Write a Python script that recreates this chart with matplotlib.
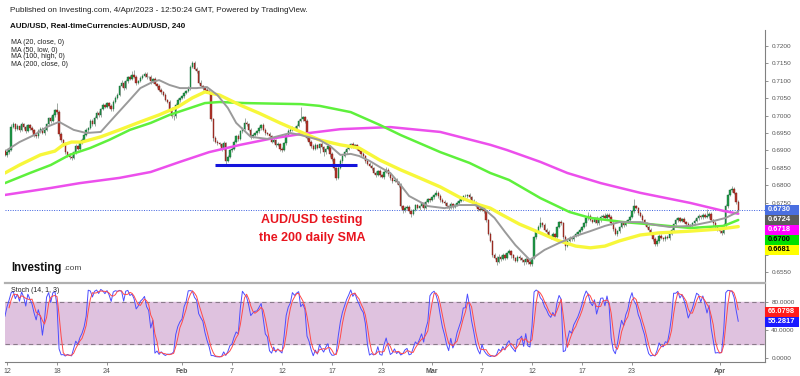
import numpy as np
import pandas as pd
import matplotlib
matplotlib.use("Agg")
import matplotlib.pyplot as plt
from matplotlib.patches import Rectangle

plt.rcParams['font.family'] = ['Liberation Sans', 'DejaVu Sans']

# ---------------- DATA (prices in pips, /1e4) ----------------
# 4h bars; 6 bars per trading day; bar 0 = Jan 12 00:00
pre_close = [6875, 6868, 6880, 6892, 6885, 6870, 6862, 6878, 6890, 6902, 6895, 6905, 6898, 6888]
pre_uw = [4, 5, 3, 6, 4, 3, 5, 4, 6, 3, 5, 4, 3, 5]
pre_lw = [3, 5, 4, 3, 6, 4, 5, 3, 4, 6, 3, 5, 4, 3]
first_open = 6880

close_pips = [
    6895, 6900, 6968, 6975, 6962, 6970,   # Jan 12
    6958, 6975, 6968, 6955, 6972, 6965,   # Jan 13
    6958, 6945, 6940, 6955, 6962, 6950,   # Jan 16
    6960, 6975, 6992, 6985, 7002, 7015,   # Jan 17
    7010, 6948, 6930, 6918, 6895, 6888,   # Jan 18
    6882, 6878, 6895, 6912, 6905, 6920,   # Jan 19
    6930, 6945, 6958, 6965, 6985, 6975,   # Jan 20
    6992, 7008, 7002, 7020, 7030, 7025,   # Jan 23
    7035, 7028, 7018, 7040, 7052, 7060,   # Jan 24
    7085, 7095, 7080, 7100, 7110, 7105,   # Jan 25
    7118, 7112, 7095, 7100, 7108, 7115,   # Jan 26
    7120, 7110, 7112, 7098, 7105, 7090,   # Jan 27
    7085, 7075, 7068, 7060, 7045, 7040,   # Jan 30
    7020, 7000, 6998, 7030, 7045, 7050,   # Jan 31
    7055, 7065, 7070, 7080, 7140, 7150,   # Feb 1
    7135, 7128, 7095, 7085, 7080, 7075,   # Feb 2
    7070, 7065, 6990, 6935, 6925, 6920,   # Feb 3
    6918, 6905, 6920, 6870, 6882, 6900,   # Feb 6
    6905, 6925, 6940, 6932, 6955, 6962,   # Feb 7
    6980, 6975, 6960, 6940, 6945, 6950,   # Feb 8
    6955, 6965, 6972, 6960, 6950, 6948,   # Feb 9
    6940, 6925, 6930, 6915, 6918, 6905,   # Feb 10
    6900, 6920, 6945, 6955, 6960, 6965,   # Feb 13
    6962, 6970, 6985, 6990, 6995, 6985,   # Feb 14
    6935, 6925, 6912, 6905, 6915, 6908,   # Feb 15
    6918, 6910, 6895, 6905, 6912, 6890,   # Feb 16
    6875, 6850, 6822, 6850, 6870, 6885,   # Feb 17
    6895, 6905, 6912, 6918, 6910, 6915,   # Feb 20
    6905, 6898, 6890, 6885, 6870, 6862,   # Feb 21
    6855, 6848, 6835, 6830, 6840, 6828,   # Feb 22
    6825, 6838, 6845, 6832, 6820, 6812,   # Feb 23
    6815, 6808, 6800, 6740, 6728, 6735,   # Feb 24
    6738, 6725, 6718, 6730, 6742, 6735,   # Feb 27
    6740, 6748, 6735, 6752, 6760, 6758,   # Feb 28
    6765, 6772, 6778, 6770, 6758, 6752,   # Mar 1
    6748, 6740, 6735, 6745, 6738, 6742,   # Mar 2
    6750, 6755, 6760, 6770, 6768, 6772,   # Mar 3
    6765, 6755, 6748, 6740, 6732, 6728,   # Mar 6
    6735, 6725, 6700, 6660, 6640, 6600,   # Mar 7
    6592, 6580, 6595, 6588, 6600, 6590,   # Mar 8
    6605, 6612, 6598, 6590, 6582, 6595,   # Mar 9
    6590, 6585, 6578, 6588, 6580, 6575,   # Mar 10
    6590, 6650, 6668, 6680, 6690, 6685,   # Mar 13
    6672, 6665, 6655, 6650, 6660, 6652,   # Mar 14
    6680, 6695, 6690, 6650, 6625, 6640,   # Mar 15
    6648, 6645, 6655, 6660, 6665, 6672,   # Mar 16
    6680, 6690, 6705, 6712, 6700, 6695,   # Mar 17
    6705, 6690, 6700, 6710, 6712, 6705,   # Mar 20
    6715, 6708, 6690, 6675, 6660, 6668,   # Mar 21
    6680, 6690, 6685, 6695, 6700, 6710,   # Mar 22
    6725, 6740, 6735, 6720, 6712, 6700,   # Mar 23
    6690, 6680, 6672, 6660, 6645, 6630,   # Mar 24
    6640, 6655, 6648, 6645, 6652, 6648,   # Mar 27
    6660, 6672, 6688, 6700, 6705, 6698,   # Mar 28
    6702, 6695, 6688, 6680, 6685, 6690,   # Mar 29
    6698, 6705, 6712, 6708, 6715, 6710,   # Mar 30
    6712, 6718, 6700, 6690, 6680, 6672,   # Mar 31
    6668, 6662, 6685, 6740, 6772, 6785,   # Apr 3
    6790, 6778, 6752, 6730,               # Apr 4
]
up_wick = [
    5, 3, 8, 6, 4, 5,   4, 6, 3, 5, 4, 3,   5, 4, 3, 6, 4, 5,   3, 5, 4, 6, 5, 4,
    20, 5, 4, 3, 6, 4,  4, 5, 3, 6, 4, 3,   5, 4, 6, 3, 5, 4,   6, 4, 5, 3, 6, 4,
    5, 3, 4, 6, 4, 5,   4, 6, 3, 5, 4, 6,   10, 12, 4, 3, 5, 4, 6, 4, 3, 5, 4, 5,
    4, 5, 3, 4, 6, 3,   5, 4, 3, 6, 5, 4,   4, 3, 5, 4, 6, 8,   8, 5, 4, 6, 3, 5,
    3, 5, 4, 3, 6, 4,   5, 4, 6, 3, 4, 5,   4, 5, 3, 6, 4, 5,   12, 4, 5, 3, 6, 4,
    3, 5, 4, 6, 3, 4,   4, 3, 5, 4, 6, 3,   5, 4, 3, 6, 4, 5,   4, 6, 5, 35, 4, 3,
    5, 3, 4, 6, 5, 4,   3, 5, 4, 3, 6, 4,   4, 5, 3, 6, 4, 5,   5, 4, 6, 3, 5, 4,
    3, 5, 4, 6, 3, 5,   4, 6, 3, 5, 4, 6,   5, 3, 6, 4, 5, 3,   4, 5, 3, 6, 4, 5,
    5, 4, 6, 3, 5, 4,   3, 5, 4, 6, 4, 3,   4, 3, 8, 5, 4, 6,   5, 4, 3, 6, 4, 5,
    4, 6, 5, 3, 6, 4,   5, 3, 4, 6, 4, 5,   4, 5, 3, 4, 5, 3,   5, 4, 6, 3, 5, 4,
    4, 6, 3, 5, 4, 5,   5, 3, 4, 6, 3, 5,   4, 5, 3, 6, 20, 4,  5, 4, 6, 3, 5, 4,
    4, 3, 5, 4, 6, 3,   5, 4, 3, 6, 4, 5,   3, 5, 4, 10, 5, 4,  4, 6, 3, 5, 4, 8,
    5, 4, 6, 3, 5, 4,   4, 5, 3, 6, 4, 5,   5, 20, 4, 3, 6, 4,  4, 3, 5, 4, 3, 6,
    5, 4, 6, 3, 5, 4,   3, 5, 4, 6, 4, 5,   4, 6, 3, 5, 4, 3,   5, 4, 6, 3, 5, 4,
    20, 5, 4, 3, 6, 4,  4, 3, 5, 6, 4, 5,   7, 4, 3, 5,
]
low_wick = [
    8, 4, 3, 5, 6, 3,   5, 3, 6, 4, 3, 5,   4, 6, 5, 3, 5, 4,   5, 3, 4, 6, 3, 5,
    4, 6, 5, 6, 4, 8,   6, 5, 3, 4, 5, 3,   3, 5, 4, 6, 3, 5,   4, 3, 6, 5, 4, 3,
    3, 6, 5, 4, 3, 5,   5, 3, 6, 4, 5, 3,   4, 3, 6, 5, 3, 4,   3, 5, 4, 6, 4, 3,
    5, 3, 6, 4, 3, 5,   6, 8, 12, 4, 3, 5,  3, 5, 4, 3, 6, 4,   4, 6, 5, 3, 5, 4,
    5, 4, 6, 8, 5, 4,   4, 6, 5, 10, 4, 3,  6, 3, 5, 4, 3, 5,   4, 5, 3, 6, 4, 5,
    5, 4, 6, 3, 5, 4,   3, 5, 4, 6, 3, 8,   6, 3, 5, 4, 3, 4,   3, 5, 4, 3, 6, 5,
    4, 6, 5, 4, 3, 5,   15, 5, 12, 4, 3, 10, 5, 6, 8, 4, 3, 5,  4, 5, 3, 6, 4, 3,
    5, 4, 6, 3, 5, 4,   3, 5, 4, 6, 3, 5,   4, 6, 3, 5, 4, 6,   3, 4, 6, 5, 8, 4,
    4, 6, 8, 3, 5, 4,   5, 3, 6, 4, 3, 5,   3, 5, 4, 6, 5, 3,   4, 6, 5, 3, 5, 4,
    3, 5, 4, 6, 3, 5,   4, 5, 3, 4, 6, 3,   3, 6, 5, 4, 3, 6,   4, 10, 3, 5, 4, 6,
    3, 4, 6, 5, 4, 3,   4, 5, 6, 3, 5, 8,   6, 3, 5, 4, 3, 5,   3, 5, 4, 6, 4, 3,
    5, 4, 3, 6, 10, 4,  4, 6, 5, 3, 5, 4,   5, 3, 6, 4, 3, 5,   3, 5, 4, 6, 5, 3,
    4, 3, 5, 6, 4, 5,   5, 4, 6, 3, 5, 4,   3, 5, 4, 6, 3, 5,   5, 4, 6, 3, 5, 4,
    4, 6, 3, 5, 4, 3,   5, 3, 4, 3, 6, 4,   3, 5, 6, 4, 3, 5,   4, 3, 5, 6, 4, 3,
    3, 5, 4, 6, 3, 5,   5, 6, 3, 4, 5, 3,   4, 3, 5, 4,
]

# Moving averages (bar index, pips)
ma20_bar = [0, 6, 13, 19, 25, 32, 38, 45, 51, 58, 64, 70, 73, 78, 83, 91, 96, 101, 106, 110,
            117, 125, 136, 141, 150, 155, 160, 165, 169, 174, 179, 184, 189, 193, 202, 210,
            217, 225, 229, 234, 239, 244, 251, 258, 265, 273, 280, 287, 294, 304, 311, 318,
            328, 337, 345, 351]
ma20_val = [6901, 6924, 6944, 6967, 6982, 6959, 6950, 6953, 6993, 7039, 7079, 7097, 7102, 7088,
            7079, 7079, 7082, 7059, 7022, 6979, 6939, 6933, 6950, 6944, 6930, 6913, 6887, 6890,
            6884, 6870, 6852, 6835, 6800, 6769, 6740, 6734, 6743, 6743, 6732, 6706, 6666, 6628,
            6585, 6614, 6634, 6654, 6668, 6683, 6694, 6694, 6686, 6680, 6683, 6694, 6706, 6724]
ma50_bar = [-1, 6, 16, 23, 27, 31, 36, 45, 54, 64, 73, 82, 89, 95, 102, 112, 121, 131, 141, 150,
            160, 169, 179, 189, 198, 208, 217, 227, 232, 237, 246, 256, 264, 273, 280, 287, 294,
            304, 313, 328, 342, 351]
ma50_val = [6835, 6858, 6887, 6898, 6916, 6924, 6924, 6939, 6959, 6982, 7002, 7025, 7051, 7068,
            7059, 7030, 7007, 6979, 6953, 6930, 6916, 6907, 6872, 6844, 6821, 6795, 6766, 6743,
            6734, 6717, 6688, 6663, 6642, 6625, 6620, 6625, 6640, 6657, 6663, 6668, 6674, 6681]
ma100_bar = [-1, 11, 21, 30, 40, 49, 59, 69, 78, 88, 95, 102, 114, 141, 150, 165, 179, 189, 208,
             222, 232, 241, 256, 270, 280, 296, 312, 328, 344, 351]
ma100_val = [6806, 6835, 6858, 6887, 6907, 6930, 6959, 6979, 7002, 7022, 7036, 7039, 7036, 7033,
             7028, 7010, 6973, 6944, 6895, 6864, 6835, 6815, 6763, 6723, 6706, 6694, 6686, 6677,
             6683, 6700]
ma200_bar = [-1, 21, 35, 54, 69, 83, 97, 112, 126, 141, 160, 184, 208, 232, 240, 256, 269, 285,
             304, 328, 344, 351]
ma200_val = [6772, 6792, 6806, 6821, 6838, 6867, 6895, 6916, 6933, 6947, 6961, 6967, 6953, 6916,
             6901, 6867, 6835, 6806, 6778, 6749, 6726, 6718]

support_level = 6858
support_from, support_to = 100, 168
last_price = 6730

tick_days = [0, 4, 8, 14, 18, 22, 26, 30, 34, 38, 42, 46, 50, 57]
tick_labels = ['12', '18', '24', 'Feb', '7', '12', '17', '23', 'Mar', '7', '12', '17', '23', 'Apr']
price_ticks = [0.6550, 0.6600, 0.6650, 0.6700, 0.6750, 0.6800, 0.6850, 0.6900, 0.6950,
               0.7000, 0.7050, 0.7100, 0.7150, 0.7200]
hidden_tick_labels = [0.6600, 0.6650, 0.6700]   # covered by the value boxes
price_labels = [(0.6730, '0.6730', '#4a6fe0', 'white'),
                (0.6724, '0.6724', '#5b5b5b', 'white'),
                (0.6718, '0.6718', '#ff00ff', 'white'),
                (0.6700, '0.6700', '#00e000', 'black'),
                (0.6681, '0.6681', '#ffff00', 'black')]
stoch_labels = [(66.0798, '66.0798', '#ff1a1a', 'white'),
                (55.2817, '55.2817', '#1a1aff', 'white')]

# ---------------- derived series ----------------
closes = np.array(pre_close + close_pips) / 1e4
opens = np.r_[first_open / 1e4, closes[:-1]]
uw = np.array(pre_uw + up_wick) / 1e4
lw = np.array(pre_lw + low_wick) / 1e4
highs = np.maximum(opens, closes) + uw
lows = np.minimum(opens, closes) - lw
bars = np.arange(len(closes)) - len(pre_close)

s_h = pd.Series(highs).rolling(14).max()
s_l = pd.Series(lows).rolling(14).min()
k = 100 * (pd.Series(closes) - s_l) / (s_h - s_l)
d = k.rolling(3).mean()

# ---------------- figure ----------------
W, H = 800, 376
fig = plt.figure(figsize=(W / 100, H / 100), dpi=100)
fig.patch.set_facecolor('white')

def fx(px):
    return px / W

def fy(py):
    return 1 - py / H

ax = fig.add_axes([fx(5), fy(281), fx(760), 251 / H])
ax2 = fig.add_axes([fx(5), fy(362), fx(760), 79 / H], sharex=ax)

px_per_bar = 12.5 / 6
x_left = (5 - 7) / px_per_bar
x_right = (765 - 7) / px_per_bar
ax.set_xlim(x_left, x_right)
ppp = 0.005 / 17.4
ax.set_ylim(0.72 - (281 - 46) * ppp, 0.72 + (46 - 30) * ppp)
ax2.set_ylim((358 - 362) / 0.7, (358 - 283) / 0.7)

# candles
up = closes >= opens
ax.vlines(bars, lows, highs, color='#9fa9a2', lw=0.7, zorder=2)
body_bot = np.minimum(opens, closes)
body_h = np.maximum(np.abs(closes - opens), 0.00004)
ax.bar(bars[up], body_h[up], bottom=body_bot[up], width=0.7, color='#1f9a45',
       edgecolor='#17693a', lw=0.3, zorder=3)
ax.bar(bars[~up], body_h[~up], bottom=body_bot[~up], width=0.7, color='#b4332a',
       edgecolor='#7a2019', lw=0.3, zorder=3)

# moving averages
ax.plot(ma200_bar, np.array(ma200_val) / 1e4, color='#ec4fec', lw=1.8, zorder=4, solid_capstyle='round')
ax.plot(ma100_bar, np.array(ma100_val) / 1e4, color='#5ef03c', lw=1.8, zorder=4, solid_capstyle='round')
ax.plot(ma50_bar, np.array(ma50_val) / 1e4, color='#f7f73a', lw=2.4, zorder=4, solid_capstyle='round')
ax.plot(ma20_bar, np.array(ma20_val) / 1e4, color='#9a9a9a', lw=1.4, zorder=5, solid_capstyle='round')

# support line and last price line
ax.hlines(support_level / 1e4, support_from, support_to, color='#1414dc', lw=2.2, zorder=6)
ax.axhline(last_price / 1e4, color='#3a5ee0', lw=0.7, ls=(0, (1, 1.5)), zorder=1)

ax.text((312 - 7) / px_per_bar, 0.6700, 'AUD/USD testing', color='#e8141e', fontsize=9,
        fontweight='bold', ha='center', va='center', zorder=7)
ax.text((312 - 7) / px_per_bar, 0.6648, 'the 200 daily SMA', color='#e8141e', fontsize=9,
        fontweight='bold', ha='center', va='center', zorder=7)

# main axis styling
for s in ['top', 'left', 'bottom']:
    ax.spines[s].set_visible(False)
ax.spines['right'].set_color('#808080')
ax.spines['right'].set_linewidth(0.8)
ax.yaxis.tick_right()
ax.set_yticks(price_ticks)
ax.set_yticklabels(['' if any(abs(v - h) < 1e-9 for h in hidden_tick_labels) else '%.4f' % v
                    for v in price_ticks])
ax.tick_params(axis='y', labelsize=4.6, colors='#808080', labelcolor='#555555', length=2.5,
               width=0.6, pad=2)
ax.tick_params(axis='x', bottom=False, labelbottom=False)

# stochastic pane
ax2.axhspan(20, 80, color='#dfc2df', zorder=0)
ax2.axhline(80, color='#8a7a8a', lw=0.8, ls=(0, (4, 3)), zorder=1)
ax2.axhline(20, color='#8a7a8a', lw=0.8, ls=(0, (4, 3)), zorder=1)
ax2.plot(bars, d, color='#ff4a4a', lw=0.7, zorder=3)
ax2.plot(bars, k, color='#4d4dff', lw=0.7, zorder=2)
ax2.spines['left'].set_visible(False)
ax2.spines['top'].set_color('#b0b0b0')
ax2.spines['top'].set_linewidth(1.6)
ax2.spines['right'].set_color('#808080')
ax2.spines['right'].set_linewidth(0.8)
ax2.spines['bottom'].set_color('#808080')
ax2.spines['bottom'].set_linewidth(0.8)
ax2.yaxis.tick_right()
ax2.set_yticks([0, 40, 80])
ax2.set_yticklabels(['0.0000', '40.0000', '80.0000'])
ax2.tick_params(axis='y', labelsize=4.6, colors='#808080', labelcolor='#555555', length=2.5,
                width=0.6, pad=2)
ax2.set_xticks([dd * 6 for dd in tick_days])
ax2.set_xticklabels(tick_labels)
ax2.tick_params(axis='x', labelsize=5, colors='#808080', labelcolor='#555555', length=2.5,
                width=0.6, pad=1.5)
for lab in ax2.get_xticklabels():
    if lab.get_text() in ('Feb', 'Mar', 'Apr'):
        lab.set_fontweight('bold')

# right-side value boxes
def boxes(axis, items, step=10):
    y0 = axis.transData.transform((0, items[0][0]))[1]
    y0 = H - y0
    for i, (v, t, bg, fg) in enumerate(items):
        yc = y0 + i * step
        fig.patches.append(Rectangle((fx(765), fy(yc + 5)), fx(34), 10 / H, transform=fig.transFigure,
                                     facecolor=bg, edgecolor='none', zorder=10))
        fig.text(fx(768), fy(yc), t, color=fg, fontsize=5.4, fontweight='bold', ha='left',
                 va='center', zorder=11)

boxes(ax, price_labels)
boxes(ax2, stoch_labels)

# header texts
fig.text(fx(10), fy(11), 'Published on Investing.com, 4/Apr/2023 - 12:50:24 GMT, Powered by TradingView.',
         fontsize=5.9, color='#222222', ha='left', va='center')
fig.text(fx(10), fy(26), 'AUD/USD, Real-timeCurrencies:AUD/USD, 240', fontsize=5.8,
         fontweight='bold', color='#111111', ha='left', va='center')
for i, t in enumerate(['MA (20, close, 0)', 'MA (50, low, 0)', 'MA (100, high, 0)', 'MA (200, close, 0)']):
    fig.text(fx(11), fy(43 + 7 * i), t, fontsize=5, color='#222222', ha='left', va='center')
fig.text(fx(11), fy(291), 'Stoch (14, 1, 3)', fontsize=5, color='#222222', ha='left', va='center')

fig.text(fx(11), fy(268), 'Investing', fontsize=8.3, fontweight='bold', color='#111111',
         ha='left', va='center')
fig.text(fx(63), fy(269), '.com', fontsize=6, color='#444444', ha='left', va='center')

fig.savefig('out.png', dpi=100)
